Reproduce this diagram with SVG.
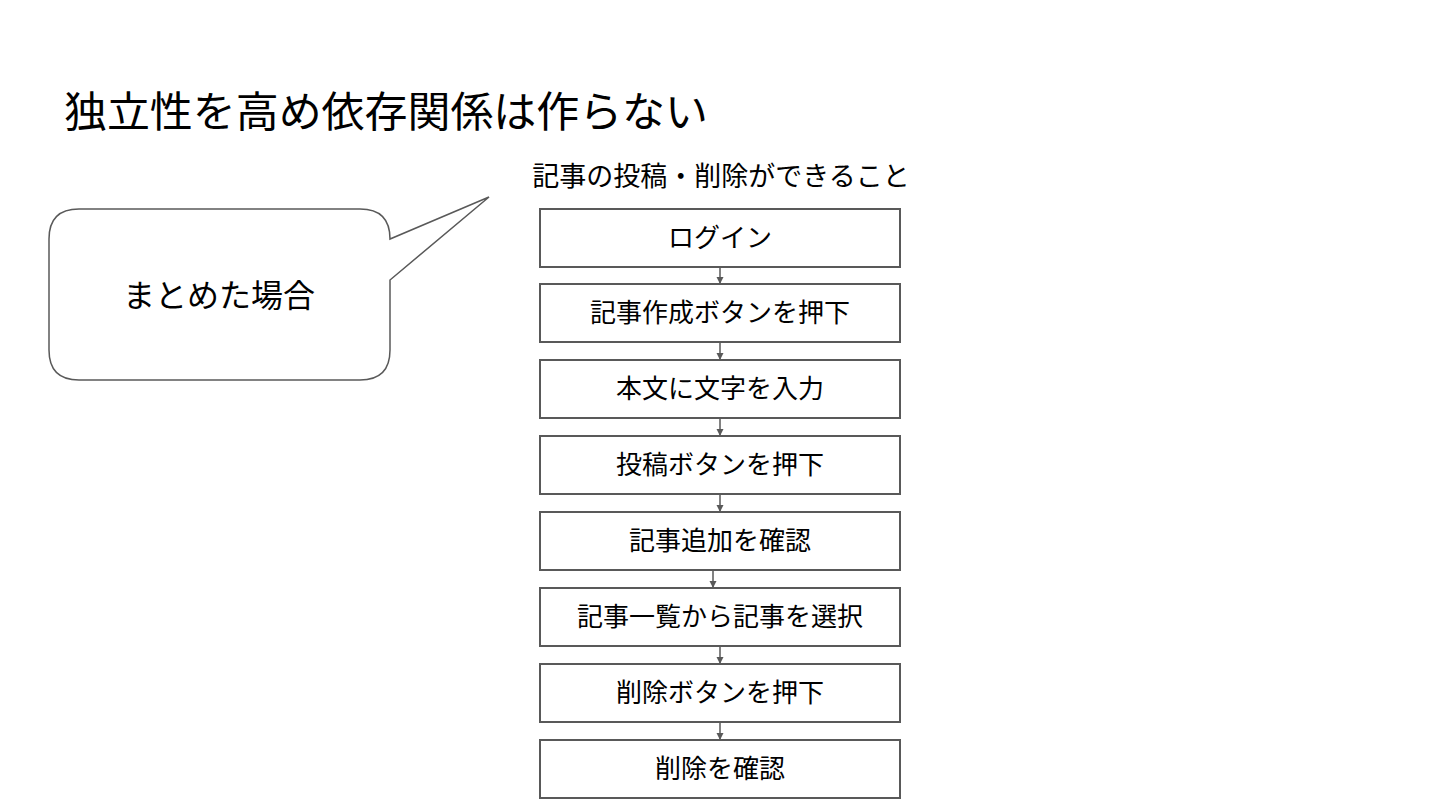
<svg xmlns="http://www.w3.org/2000/svg" width="1440" height="810" viewBox="0 0 1440 810">
<style>
.t{font-family:"Noto Sans CJK JP","Noto Sans",sans-serif;fill:#000}
.box{fill:#fff;stroke:#595959;stroke-width:2}
.lbl{font-size:26px;text-anchor:middle}
.conn{stroke:#595959;stroke-width:1.5;fill:none;marker-end:url(#ah)}
</style>
<defs>
<marker id="ah" markerWidth="8" markerHeight="8" refX="7" refY="4" orient="auto" markerUnits="userSpaceOnUse">
<path d="M0,0.5 L7,4 L0,7.5 Z" fill="#595959"/>
</marker>
</defs>
<rect width="1440" height="810" fill="#fff"/>
<text class="t" x="64" y="127" font-size="42" textLength="644" lengthAdjust="spacingAndGlyphs">独立性を高め依存関係は作らない</text>
<text class="t" x="721" y="186" font-size="27" text-anchor="middle">記事の投稿・削除ができること</text>
<g id="callout">
<path d="M79,209 H360 Q390,209 390,239 L489,197 L390,280 V350 Q390,380 360,380 H79 Q49,380 49,350 V239 Q49,209 79,209 Z" fill="#fff" stroke="#595959" stroke-width="1.5"/>
<text class="t" x="219" y="307" font-size="32" text-anchor="middle">まとめた場合</text>
</g>
<g id="connectors">
<line class="conn" x1="720" y1="267" x2="720" y2="284"/>
<line class="conn" x1="720" y1="342" x2="720" y2="360"/>
<line class="conn" x1="720" y1="418" x2="720" y2="436"/>
<line class="conn" x1="720" y1="494" x2="720" y2="512"/>
<line class="conn" x1="713" y1="570" x2="713" y2="588"/>
<line class="conn" x1="720" y1="646" x2="720" y2="664"/>
<line class="conn" x1="720" y1="722" x2="720" y2="740"/>
</g>
<g id="n1"><rect class="box" x="540" y="209" width="360" height="58"/><text class="t lbl" x="720" y="247">ログイン</text></g>
<g id="n2"><rect class="box" x="540" y="284" width="360" height="58"/><text class="t lbl" x="720" y="322">記事作成ボタンを押下</text></g>
<g id="n3"><rect class="box" x="540" y="360" width="360" height="58"/><text class="t lbl" x="720" y="398">本文に文字を入力</text></g>
<g id="n4"><rect class="box" x="540" y="436" width="360" height="58"/><text class="t lbl" x="720" y="474">投稿ボタンを押下</text></g>
<g id="n5"><rect class="box" x="540" y="512" width="360" height="58"/><text class="t lbl" x="720" y="550">記事追加を確認</text></g>
<g id="n6"><rect class="box" x="540" y="588" width="360" height="58"/><text class="t lbl" x="720" y="626">記事一覧から記事を選択</text></g>
<g id="n7"><rect class="box" x="540" y="664" width="360" height="58"/><text class="t lbl" x="720" y="702">削除ボタンを押下</text></g>
<g id="n8"><rect class="box" x="540" y="740" width="360" height="58"/><text class="t lbl" x="720" y="778">削除を確認</text></g>
</svg>
